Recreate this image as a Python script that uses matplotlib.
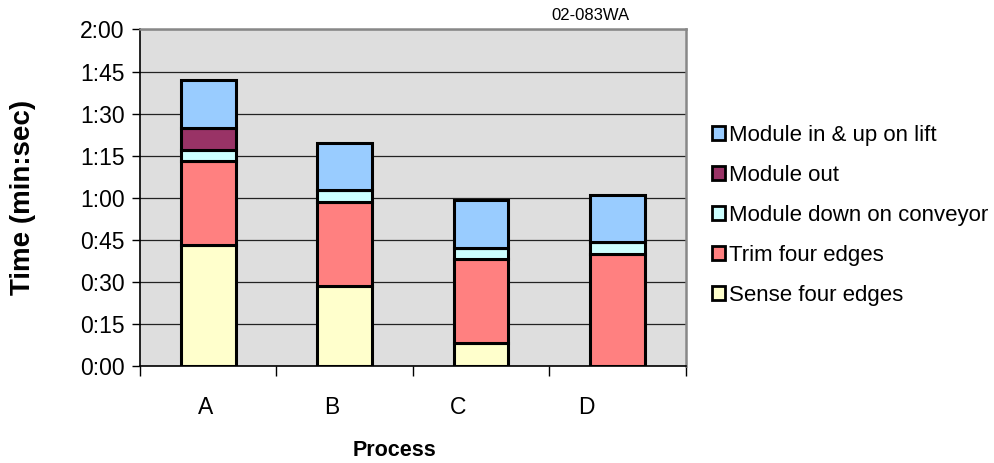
import matplotlib
matplotlib.use("Agg")
import matplotlib.pyplot as plt
import matplotlib.transforms as mtransforms
from matplotlib.patches import Patch
from matplotlib.ticker import FuncFormatter, FixedLocator
import numpy as np

plt.rcParams['font.family'] = ['Liberation Sans', 'DejaVu Sans']

categories = ['A', 'B', 'C', 'D']
series_names = ['Sense four edges', 'Trim four edges', 'Module down on conveyor',
                'Module out', 'Module in & up on lift']
sense = [43, 28.6, 8, 0]
trim = [30, 30, 30, 40]
down = [4, 4, 4, 4]
mod_out = [8, 0, 0, 0]
mod_in = [17, 17, 17, 17]
series_values = [sense, trim, down, mod_out, mod_in]
colors = ['#ffffcc', '#ff8080', '#ccffff', '#993366', '#99ccff']
y_ticks = list(range(0, 121, 15))

fig = plt.figure(figsize=(9.95, 4.63), dpi=100)
ax = fig.add_axes([0.1407, 0.2102, 0.5485, 0.7261])
ax.set_facecolor('#dedede')

x = np.arange(len(categories))
bottom = np.zeros(len(categories))
handles = []
for name, vals, c in zip(series_names, series_values, colors):
    ax.bar(x, vals, width=0.4, bottom=bottom, color=c, edgecolor='black',
           linewidth=2.2, zorder=3)
    bottom += np.array(vals)
    handles.append(Patch(facecolor=c, edgecolor='black', linewidth=2, label=name))

ax.set_xlim(-0.5, len(categories) - 0.5)
ax.set_ylim(0, 120)
ax.yaxis.set_major_locator(FixedLocator(y_ticks))
ax.yaxis.set_major_formatter(FuncFormatter(lambda v, p: f"{int(v)//60}:{int(v)%60:02d}"))
ax.grid(axis='y', color='#222222', linewidth=0.9, zorder=1)
ax.set_axisbelow(True)

# category boundary ticks
ax.xaxis.set_major_locator(FixedLocator(np.arange(-0.5, len(categories), 1.0)))
ax.xaxis.set_major_formatter(FuncFormatter(lambda v, p: ''))
ax.xaxis.set_minor_locator(FixedLocator(x))
ax.set_xticklabels(categories, minor=True)
ax.tick_params(axis='x', which='major', length=7, width=1, direction='out', color='black')
ax.tick_params(axis='x', which='minor', length=0, pad=22, labelsize=16.5)
ax.tick_params(axis='y', length=6, width=1, direction='out', pad=5, labelsize=16.5)

# Excel-like label placement offsets (pixels)
offsets = [-3, -12.6, -23, -31]
for lbl, off in zip(ax.xaxis.get_minorticklabels(), offsets):
    lbl.set_transform(lbl.get_transform() + mtransforms.ScaledTranslation(off / 100, 0, fig.dpi_scale_trans))

for s in ['left', 'bottom']:
    ax.spines[s].set_color('black')
    ax.spines[s].set_linewidth(1.2)
for s in ['top', 'right']:
    ax.spines[s].set_color('#888888')
    ax.spines[s].set_linewidth(1.8)

fig.text(23 / 995, 1 - 197 / 463, 'Time (min:sec)', rotation=90, ha='center', va='center',
         fontsize=20, fontweight='bold')
fig.text(395 / 995, 1 - 450 / 463, 'Process', ha='center', va='center',
         fontsize=15.5, fontweight='bold')
fig.text(590 / 995, 1 - 15 / 463, '02-083WA', ha='center', va='center', fontsize=12)

leg = fig.legend(handles=handles[::-1], loc='upper left', bbox_to_anchor=(0.716, 1 - 125 / 463),
                 frameon=False, fontsize=16, handlelength=0.58, handleheight=0.58,
                 handletextpad=0.15, labelspacing=0.85, borderpad=0, borderaxespad=0)

fig.savefig('out.png', dpi=100)
